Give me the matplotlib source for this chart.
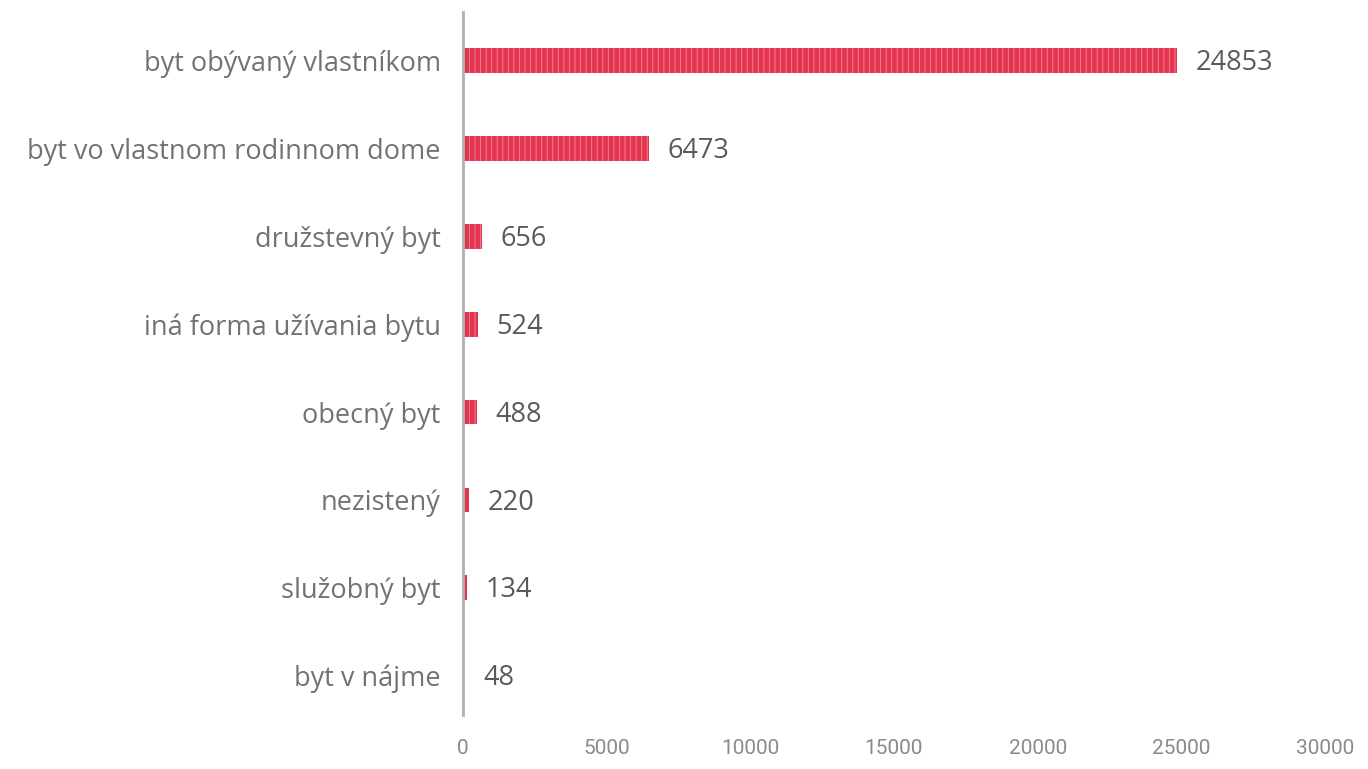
import matplotlib
matplotlib.use("Agg")
import matplotlib.pyplot as plt

categories = [
    "byt obývaný vlastníkom",
    "byt vo vlastnom rodinnom dome",
    "družstevný byt",
    "iná forma užívania bytu",
    "obecný byt",
    "nezistený",
    "služobný byt",
    "byt v nájme",
]
values = [24853, 6473, 656, 524, 488, 220, 134, 48]
x_ticks = [0, 5000, 10000, 15000, 20000, 25000, 30000]

bar_color = "#e3354f"
text_grey = "#727272"

plt.rcParams["font.family"] = ["Open Sans", "DejaVu Sans"]
plt.rcParams["hatch.linewidth"] = 0.7
plt.rcParams["hatch.color"] = "#f27d8f"

fig = plt.figure(figsize=(13.68, 7.69), dpi=100)
ax = fig.add_axes([0.3385, 0.070, 0.630, 0.914])

ypos = list(range(len(categories)))
ax.barh(ypos, values, height=0.28, color=bar_color, hatch="|||", linewidth=0)

for y, v in zip(ypos, values):
    ax.text(v + 650, y + 0.03, str(v), va="center", ha="left",
            fontsize=19.5, color="#5a5a5a")

ax.set_yticks(ypos)
ax.set_yticklabels(categories, fontsize=19.5, color=text_grey)
ax.set_xticks(x_ticks)
ax.set_xticklabels([str(t) for t in x_ticks], fontsize=15, color="#8a8a8a",
                   family=["Roboto", "DejaVu Sans"])
ax.set_xlim(0, 30000)
ax.set_ylim(7.45, -0.55)

ax.tick_params(axis="both", length=0)
ax.tick_params(axis="y", pad=16)
ax.tick_params(axis="x", pad=17)
for s in ["top", "right", "bottom"]:
    ax.spines[s].set_visible(False)
ax.spines["left"].set_color("#b0b0b0")
ax.spines["left"].set_linewidth(2)

fig.savefig("out.png", dpi=100, facecolor="white")
